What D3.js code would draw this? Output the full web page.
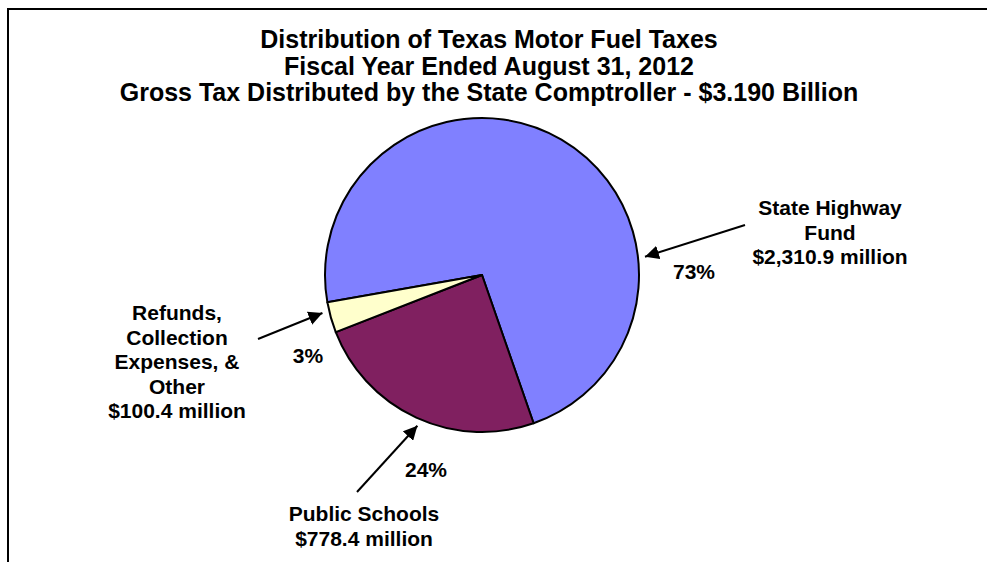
<!DOCTYPE html>
<html>
<head>
<meta charset="utf-8">
<script src="https://cdn.jsdelivr.net/npm/d3@7"></script>
<style>
  body { margin: 0; background: #fff; }
  text { font-family: "Liberation Sans", Arial, sans-serif; font-weight: bold; fill: #000; }
</style>
</head>
<body>
<div id="chart"></div>
<script>
var width = 987;
var height = 562;

// data
var categories = ["State Highway Fund", "Public Schools", "Refunds, Collection Expenses, & Other"];
var values = [2310.9, 778.4, 100.4];
var percentLabels = ["73%", "24%", "3%"];
var nameLines = [["State Highway", "Fund"], ["Public Schools"], ["Refunds,", "Collection", "Expenses, &", "Other"]];
var amountLabels = ["$2,310.9 million", "$778.4 million", "$100.4 million"];
var colors = ["#8080ff", "#802060", "#ffffcc"];
var titleLines = [
  "Distribution of Texas Motor Fuel Taxes",
  "Fiscal Year Ended August 31, 2012",
  "Gross Tax Distributed by the State Comptroller - $3.190 Billion"
];

// where the call-outs sit, relative to pie centre
var cx = 482, cy = 275, radius = 157;
var tipAngle = [83.6, 203.2, 256.6];       // degrees, clockwise from 12 o'clock
var tailOffset = [[263, -50], [-125, 217], [-224, 64]];
var labelOffset = [[348, -60], [-118, 246], [-305, 45]];
var pctOffset = [[212, 4], [-56, 202], [-174, 88]];
var lineGap = 24.5;

var svg = d3.select("#chart")
  .append("svg")
  .attr("width", width)
  .attr("height", height);

svg.append("defs").append("marker")
  .attr("id", "head")
  .attr("viewBox", "0 0 10 10")
  .attr("refX", 10)
  .attr("refY", 5)
  .attr("markerWidth", 14)
  .attr("markerHeight", 14)
  .attr("markerUnits", "userSpaceOnUse")
  .attr("orient", "auto")
  .append("path")
  .attr("d", "M0,0 L10,5 L0,10 Z")
  .style("fill", "#000");

// frame (clipped at right and bottom, like the original)
svg.append("path")
  .attr("d", "M8," + (height + 5) + " L8,9 L" + (width + 5) + ",9")
  .style("fill", "none")
  .style("stroke", "#000")
  .style("stroke-width", 2);

svg.selectAll(".title")
  .data(titleLines)
  .enter()
  .append("text")
  .attr("class", "title")
  .attr("x", 489)
  .attr("y", function(d, i) { return 48 + i * 26.5; })
  .attr("text-anchor", "middle")
  .attr("font-size", "25px")
  .text(function(d) { return d; });

var pie = d3.pie()
  .sort(null)
  .startAngle(-100 * Math.PI / 180)
  .endAngle(260 * Math.PI / 180);

var arc = d3.arc().innerRadius(0).outerRadius(radius);

var g = svg.append("g").attr("transform", "translate(" + cx + "," + cy + ")");

g.selectAll("path.slice")
  .data(pie(values))
  .enter()
  .append("path")
  .attr("class", "slice")
  .attr("d", arc)
  .style("fill", function(d, i) { return colors[i]; })
  .style("stroke", "#000")
  .style("stroke-width", 2)
  .style("stroke-linejoin", "round");

function polar(deg, r) {
  var a = deg * Math.PI / 180;
  return [Math.sin(a) * r, -Math.cos(a) * r];
}

categories.forEach(function(c, i) {
  var tip = polar(tipAngle[i], radius + 7);
  g.append("line")
    .attr("x1", tailOffset[i][0])
    .attr("y1", tailOffset[i][1])
    .attr("x2", tip[0])
    .attr("y2", tip[1])
    .style("stroke", "#000")
    .style("stroke-width", 2)
    .attr("marker-end", "url(#head)");

  var lines = nameLines[i].concat([amountLabels[i]]);
  g.selectAll(".lab" + i)
    .data(lines)
    .enter()
    .append("text")
    .attr("x", labelOffset[i][0])
    .attr("y", function(d, j) { return labelOffset[i][1] + j * lineGap; })
    .attr("text-anchor", "middle")
    .attr("font-size", "21px")
    .text(function(d) { return d; });

  g.append("text")
    .attr("x", pctOffset[i][0])
    .attr("y", pctOffset[i][1])
    .attr("text-anchor", "middle")
    .attr("font-size", "21px")
    .text(percentLabels[i]);
});
</script>
</body>
</html>
